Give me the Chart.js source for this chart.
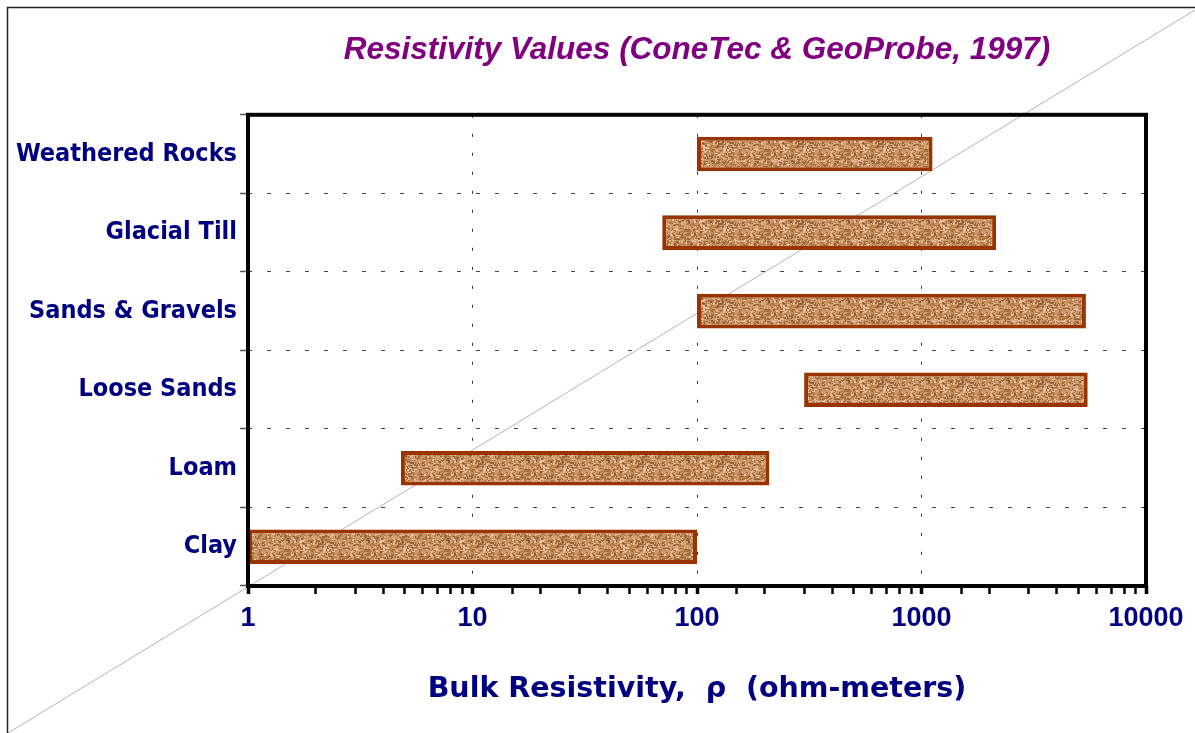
<!DOCTYPE html>
<html>
<head>
<meta charset="utf-8">
<title>Resistivity Values</title>
<script src="https://cdn.jsdelivr.net/npm/chart.js@4/dist/chart.umd.min.js"></script>
<style>
  html, body { margin: 0; padding: 0; background: #fff; }
  #wrap { width: 1195px; height: 733px; }
</style>
</head>
<body>
<div id="wrap"><canvas id="chart" width="1195" height="733"></canvas></div>
<script>
// Data
const categories = ['Weathered Rocks', 'Glacial Till', 'Sands & Gravels', 'Loose Sands', 'Loam', 'Clay'];
const lowValues = [100, 70, 100, 300, 4.8, 1];
const highValues = [1120, 2150, 5400, 5500, 210, 100];
const majorTicks = [1, 10, 100, 1000, 10000];

const NAVY = '#000080';
const PURPLE = '#800080';

const canvas = document.getElementById('chart');
const ctx = canvas.getContext('2d');

// Sandy texture for the bars (deterministic speckle)
function makeSandPattern() {
  const c = document.createElement('canvas');
  c.width = 80;
  c.height = 40;
  const g = c.getContext('2d');
  g.fillStyle = '#D09B6E';
  g.fillRect(0, 0, 80, 40);
  let seed = 4242;
  const next = () => (seed = (seed * 16807) % 2147483647) / 2147483647;
  const tones = ['#9C6534', '#A8703E', '#B47C4A', '#E8B894', '#F0C4A4', '#BE8654', '#8C5A2C'];
  for (let i = 0; i < 1400; i++) {
    const x = Math.floor(next() * 80);
    const y = Math.floor(next() * 40);
    g.fillStyle = tones[Math.floor(next() * tones.length)];
    const r = next();
    if (r < 0.25) g.fillRect(x, y, 2, 2);
    else if (r < 0.5) g.fillRect(x, y, 3, 1);
    else if (r < 0.65) g.fillRect(x, y, 1, 2);
    else g.fillRect(x, y, 1, 1);
  }
  return ctx.createPattern(c, 'repeat');
}

// Page frame, diagonal line and thick plot border
const decorations = {
  id: 'decorations',
  beforeDraw(chart) {
    const c = chart.ctx;
    c.save();
    c.strokeStyle = '#b4b4b4';
    c.lineWidth = 1;
    c.beginPath();
    c.moveTo(8, chart.height);
    c.lineTo(chart.width, 10);
    c.stroke();
    c.strokeStyle = '#222';
    c.lineWidth = 1.5;
    c.beginPath();
    c.moveTo(7.5, chart.height);
    c.lineTo(7.5, 7.5);
    c.lineTo(chart.width, 7.5);
    c.stroke();
    c.restore();
  },
  afterDraw(chart) {
    const a = chart.chartArea;
    const c = chart.ctx;
    c.save();
    c.strokeStyle = '#000';
    c.lineWidth = 4;
    c.strokeRect(a.left, a.top, a.right - a.left, a.bottom - a.top);
    c.restore();
  }
};

const isMajor = v => majorTicks.includes(v);

new Chart(canvas, {
  type: 'bar',
  data: {
    labels: categories,
    datasets: [{
      data: categories.map((_, i) => [lowValues[i], highValues[i]]),
      backgroundColor: makeSandPattern(),
      borderColor: '#993300',
      borderWidth: 4,
      borderSkipped: false,
      categoryPercentage: 1,
      barPercentage: 0.44
    }]
  },
  options: {
    indexAxis: 'y',
    responsive: false,
    animation: false,
    layout: { padding: { left: 0, right: 49, top: 0, bottom: 0 } },
    plugins: {
      legend: { display: false },
      tooltip: { enabled: false },
      title: {
        display: true,
        fullSize: false,
        text: 'Resistivity Values (ConeTec & GeoProbe, 1997)',
        color: PURPLE,
        font: { family: 'Arial, "Liberation Sans", sans-serif', size: 31.5, weight: 'bold', style: 'italic' },
        padding: { top: 31, bottom: 46 }
      }
    },
    scales: {
      x: {
        type: 'logarithmic',
        min: 1,
        max: 10000,
        afterFit: s => { s.height = 147; },
        border: { display: false, dash: [3, 16] },
        grid: {
          color: c => (c.tick && [10, 100, 1000].includes(c.tick.value)) ? '#333' : 'rgba(0,0,0,0)',
          lineWidth: 1,
          tickColor: '#000',
          tickLength: 8,
          tickWidth: c => (c.tick && isMajor(c.tick.value)) ? 3.5 : 2.5
        },
        ticks: {
          autoSkip: false,
          maxRotation: 0,
          padding: 8,
          color: NAVY,
          font: { family: 'Arial, "Liberation Sans", sans-serif', size: 27, weight: 'bold' },
          callback: v => isMajor(v) ? String(v) : ''
        },
        title: {
          display: true,
          text: 'Bulk Resistivity,  ρ  (ohm-meters)',
          color: NAVY,
          font: { family: '"DejaVu Sans", sans-serif', size: 28.5, weight: 'bold' },
          padding: { top: 0, bottom: 26 }
        }
      },
      y: {
        afterFit: s => { s.width = 248; },
        border: { display: false, dash: [4, 15] },
        grid: {
          offset: true,
          color: '#444',
          lineWidth: 1,
          tickColor: '#555',
          tickLength: 8,
          tickWidth: 1.5
        },
        ticks: {
          padding: 3,
          color: NAVY,
          font: { family: '"DejaVu Sans Condensed", "DejaVu Sans", sans-serif', size: 25, weight: 'bold' }
        }
      }
    }
  },
  plugins: [decorations]
});
</script>
</body>
</html>
